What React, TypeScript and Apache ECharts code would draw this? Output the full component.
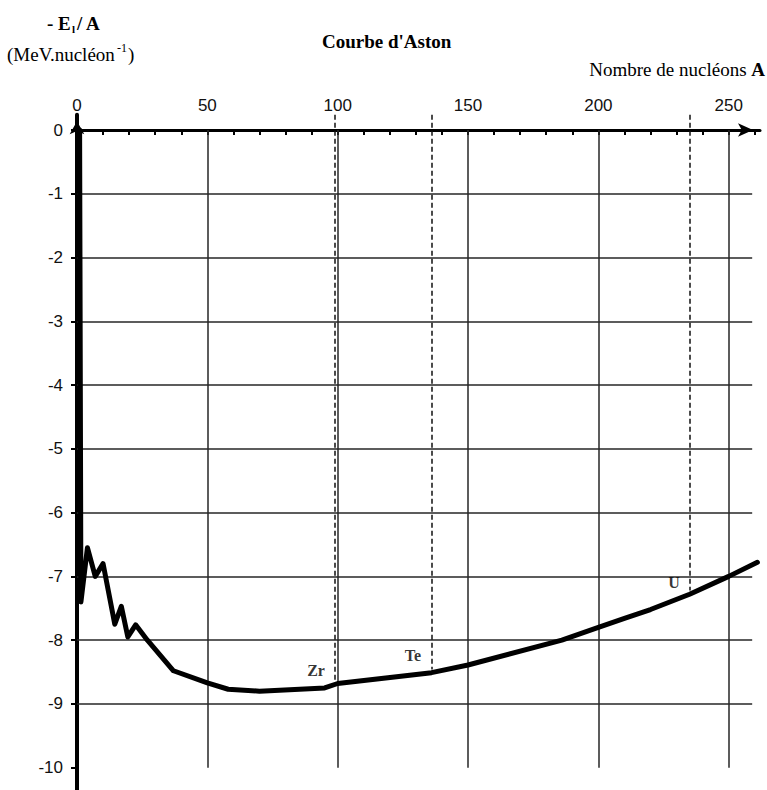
import React, { useEffect, useRef } from 'react';
import * as echarts from 'echarts';

// Aston curve: nucleon number A and -El/A (MeV per nucleon)
const nucleons = [1, 1.5, 4, 7, 10, 14.5, 17, 19.5, 22.5, 27, 37, 50, 58, 70, 95, 100, 136, 150, 186, 200, 210, 220, 235, 250, 261];
const energyPerNucleon = [0, -7.4, -6.55, -7.0, -6.8, -7.75, -7.47, -7.95, -7.76, -8.0, -8.48, -8.67, -8.77, -8.8, -8.75, -8.68, -8.51, -8.39, -8.0, -7.8, -7.66, -7.52, -7.28, -7.0, -6.78];

const xTickLabels = [0, 50, 100, 150, 200, 250];
const xMinorTicks = [10, 20, 30, 40, 50, 60, 70, 80, 90, 100, 110, 120, 130, 140, 150, 160, 170, 180, 190, 200, 210, 220, 230, 240, 250, 260];
const yTickLabels = [0, -1, -2, -3, -4, -5, -6, -7, -8, -9, -10];
const hGridValues = [-1, -2, -3, -4, -5, -6, -7, -8, -9];
const vGridValues = [50, 100, 150, 200, 250];

const elementNames = ['Zr', 'Te', 'U'];
const elementA = [99, 136, 235];
const elementCurveE = [-8.66, -8.46, -7.22];
const elementLabelA = [91.7, 128.9, 229];
const elementLabelE = [-8.48, -8.24, -7.1];

const X_MIN = 0;
const X_MAX = 262;
const Y_MIN = -10.35;
const Y_MAX = 0.24;
const H_GRID_END = 259;

const serif = '"Liberation Serif", "Times New Roman", serif';
const sans = '"Liberation Sans", Arial, sans-serif';

export default function App() {
  const ref = useRef<HTMLDivElement>(null);

  useEffect(() => {
    if (!ref.current) return;
    const chart = echarts.init(ref.current, undefined, { renderer: 'svg' });

    const gridLines: any[] = [];
    hGridValues.forEach((v) => {
      gridLines.push([{ coord: [0, v] }, { coord: [H_GRID_END, v] }]);
    });
    vGridValues.forEach((v) => {
      gridLines.push([{ coord: [v, 0] }, { coord: [v, -10] }]);
    });

    const dashLines: any[] = elementA.map((a, i) => [
      { coord: [a, Y_MAX] },
      { coord: [a, elementCurveE[i]] },
    ]);

    const option: any = {
      animation: false,
      backgroundColor: '#ffffff',
      grid: { left: 77, right: 7, top: 114.7, bottom: 0, containLabel: false },
      xAxis: {
        type: 'value',
        position: 'top',
        min: X_MIN,
        max: X_MAX,
        axisLine: {
          show: true,
          onZero: true,
          symbol: ['none', 'arrow'],
          symbolSize: [10, 15],
          symbolOffset: [0, -7],
          lineStyle: { color: '#000', width: 3 },
        },
        axisTick: {
          show: true,
          inside: true,
          length: 5,
          customValues: xMinorTicks,
          lineStyle: { color: '#000', width: 2 },
        },
        axisLabel: {
          show: true,
          customValues: xTickLabels,
          margin: 1,
          color: '#111',
          fontFamily: sans,
          fontSize: 17,
        },
        splitLine: { show: false },
      },
      yAxis: {
        type: 'value',
        min: Y_MIN,
        max: Y_MAX,
        axisLine: {
          show: true,
          onZero: true,
          symbol: ['none', 'arrow'],
          symbolSize: [11, 13],
          symbolOffset: [0, -6.5],
          lineStyle: { color: '#000', width: 4 },
        },
        axisTick: {
          show: true,
          inside: false,
          length: 6,
          customValues: yTickLabels,
          lineStyle: { color: '#000', width: 2 },
        },
        axisLabel: {
          show: true,
          customValues: yTickLabels,
          margin: 14,
          color: '#111',
          fontFamily: sans,
          fontSize: 17,
        },
        splitLine: { show: false },
      },
      series: [
        {
          type: 'line',
          z: 1,
          silent: true,
          data: [],
          showSymbol: false,
          markLine: {
            silent: true,
            symbol: ['none', 'none'],
            label: { show: false },
            emphasis: { disabled: true },
            lineStyle: { color: '#262626', width: 1.5, type: 'solid' },
            data: gridLines,
          },
        },
        {
          type: 'line',
          z: 2,
          silent: true,
          data: [],
          showSymbol: false,
          markLine: {
            silent: true,
            symbol: ['none', 'none'],
            label: { show: false },
            emphasis: { disabled: true },
            lineStyle: { color: '#111', width: 1.5, type: [5, 3] },
            data: dashLines,
          },
        },
        {
          type: 'line',
          z: 5,
          silent: true,
          data: nucleons.map((a, i) => [a, energyPerNucleon[i]]),
          showSymbol: false,
          smooth: false,
          lineStyle: { color: '#000', width: 5, cap: 'round', join: 'round' },
        },
        {
          type: 'scatter',
          z: 6,
          silent: true,
          symbolSize: 1,
          itemStyle: { color: 'rgba(0,0,0,0)' },
          data: elementNames.map((n, i) => ({ name: n, value: [elementLabelA[i], elementLabelE[i]] })),
          label: {
            show: true,
            position: 'inside',
            formatter: (p: any) => p.name,
            color: '#000',
            fontFamily: serif,
            fontWeight: 'bold',
            fontSize: 16,
          },
        },
      ],
      graphic: [
        {
          type: 'text',
          left: 47,
          top: 14,
          style: { text: '- E', fontFamily: serif, fontWeight: 'bold', fontSize: 19, fill: '#000' },
        },
        {
          type: 'text',
          left: 72,
          top: 23,
          style: { text: 'l', fontFamily: serif, fontWeight: 'bold', fontSize: 11, fill: '#000' },
        },
        {
          type: 'text',
          left: 77,
          top: 14,
          style: { text: '/ A', fontFamily: serif, fontWeight: 'bold', fontSize: 19, fill: '#000' },
        },
        {
          type: 'text',
          left: 7,
          top: 45,
          style: { text: '(MeV.nucléon', fontFamily: serif, fontSize: 19, fill: '#000' },
        },
        {
          type: 'text',
          left: 117,
          top: 42,
          style: { text: '-1', fontFamily: serif, fontSize: 12, fill: '#000' },
        },
        {
          type: 'text',
          left: 128,
          top: 45,
          style: { text: ')', fontFamily: serif, fontSize: 19, fill: '#000' },
        },
        {
          type: 'text',
          left: 322,
          top: 32,
          style: { text: "Courbe d'Aston", fontFamily: serif, fontWeight: 'bold', fontSize: 19, fill: '#000' },
        },
        {
          type: 'text',
          right: 2,
          top: 60,
          style: {
            text: '{r|Nombre de nucléons }{b|A}',
            fill: '#000',
            rich: {
              r: { fontFamily: serif, fontSize: 19, fill: '#000' },
              b: { fontFamily: serif, fontSize: 19, fontWeight: 'bold', fill: '#000' },
            },
          },
        },
      ],
    };

    chart.setOption(option);
    return () => chart.dispose();
  }, []);

  return (
    <div
      ref={ref}
      style={{ position: 'fixed', left: 0, top: 0, width: 767, height: 790, background: '#fff' }}
    />
  );
}
